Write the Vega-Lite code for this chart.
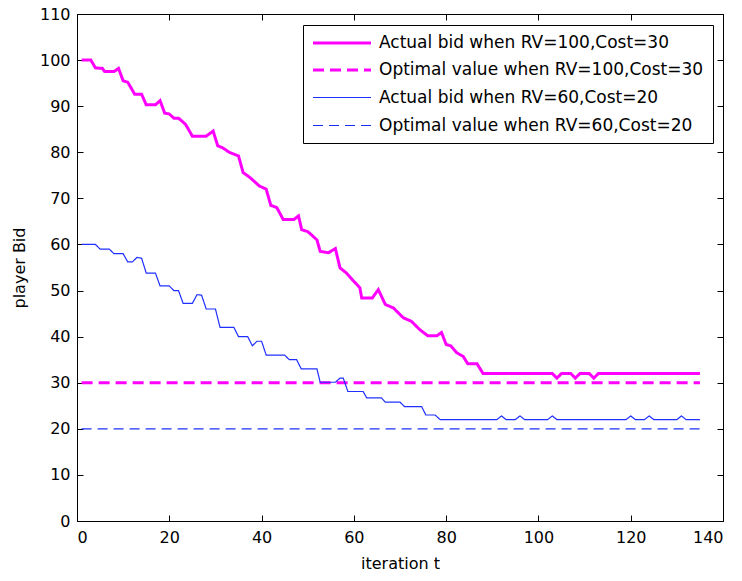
{
  "$schema": "https://vega.github.io/schema/vega-lite/v6.json",
  "width": 646,
  "height": 507,
  "autosize": {"type": "none"},
  "padding": {"left": 77, "top": 14, "right": 19, "bottom": 60},
  "background": "white",
  "config": {
    "font": "DejaVu Sans",
    "view": {"stroke": "black", "strokeWidth": 1},
    "axis": {
      "grid": false,
      "domainColor": "black",
      "tickColor": "black",
      "labelColor": "black",
      "titleColor": "black",
      "labelFont": "DejaVu Sans",
      "titleFont": "DejaVu Sans",
      "labelFontSize": 16,
      "titleFontSize": 16,
      "titleFontWeight": "normal",
      "tickSize": -6,
      "domainWidth": 1,
      "tickWidth": 1
    },
    "legend": {
      "labelFont": "DejaVu Sans",
      "labelFontSize": 17,
      "labelColor": "black"
    }
  },
  "data": {
    "values": [
      {"series": "Actual bid when RV=100,Cost=30", "t": 1, "bid": 100},
      {"series": "Actual bid when RV=100,Cost=30", "t": 3, "bid": 100},
      {"series": "Actual bid when RV=100,Cost=30", "t": 4, "bid": 98.3},
      {"series": "Actual bid when RV=100,Cost=30", "t": 5.5, "bid": 98.2},
      {"series": "Actual bid when RV=100,Cost=30", "t": 6, "bid": 97.5},
      {"series": "Actual bid when RV=100,Cost=30", "t": 8, "bid": 97.5},
      {"series": "Actual bid when RV=100,Cost=30", "t": 9, "bid": 98.2},
      {"series": "Actual bid when RV=100,Cost=30", "t": 10, "bid": 95.5},
      {"series": "Actual bid when RV=100,Cost=30", "t": 11, "bid": 95.2},
      {"series": "Actual bid when RV=100,Cost=30", "t": 12.5, "bid": 92.6},
      {"series": "Actual bid when RV=100,Cost=30", "t": 14, "bid": 92.6},
      {"series": "Actual bid when RV=100,Cost=30", "t": 15, "bid": 90.3},
      {"series": "Actual bid when RV=100,Cost=30", "t": 17, "bid": 90.3},
      {"series": "Actual bid when RV=100,Cost=30", "t": 18, "bid": 91.2},
      {"series": "Actual bid when RV=100,Cost=30", "t": 19, "bid": 88.5},
      {"series": "Actual bid when RV=100,Cost=30", "t": 20, "bid": 88.3},
      {"series": "Actual bid when RV=100,Cost=30", "t": 21, "bid": 87.4},
      {"series": "Actual bid when RV=100,Cost=30", "t": 22, "bid": 87.4},
      {"series": "Actual bid when RV=100,Cost=30", "t": 23.5, "bid": 86.1},
      {"series": "Actual bid when RV=100,Cost=30", "t": 25, "bid": 83.5},
      {"series": "Actual bid when RV=100,Cost=30", "t": 28, "bid": 83.5},
      {"series": "Actual bid when RV=100,Cost=30", "t": 29.5, "bid": 84.6},
      {"series": "Actual bid when RV=100,Cost=30", "t": 30.5, "bid": 81.4},
      {"series": "Actual bid when RV=100,Cost=30", "t": 31.5, "bid": 81},
      {"series": "Actual bid when RV=100,Cost=30", "t": 33, "bid": 80},
      {"series": "Actual bid when RV=100,Cost=30", "t": 35, "bid": 79.2},
      {"series": "Actual bid when RV=100,Cost=30", "t": 36, "bid": 75.6},
      {"series": "Actual bid when RV=100,Cost=30", "t": 37.5, "bid": 74.5},
      {"series": "Actual bid when RV=100,Cost=30", "t": 39.5, "bid": 72.7},
      {"series": "Actual bid when RV=100,Cost=30", "t": 41, "bid": 72},
      {"series": "Actual bid when RV=100,Cost=30", "t": 42, "bid": 68.5},
      {"series": "Actual bid when RV=100,Cost=30", "t": 43.3, "bid": 68},
      {"series": "Actual bid when RV=100,Cost=30", "t": 44.7, "bid": 65.4},
      {"series": "Actual bid when RV=100,Cost=30", "t": 47, "bid": 65.4},
      {"series": "Actual bid when RV=100,Cost=30", "t": 48, "bid": 66.2},
      {"series": "Actual bid when RV=100,Cost=30", "t": 48.7, "bid": 63.2},
      {"series": "Actual bid when RV=100,Cost=30", "t": 50, "bid": 62.8},
      {"series": "Actual bid when RV=100,Cost=30", "t": 52, "bid": 61},
      {"series": "Actual bid when RV=100,Cost=30", "t": 52.7, "bid": 58.5},
      {"series": "Actual bid when RV=100,Cost=30", "t": 54.5, "bid": 58.2},
      {"series": "Actual bid when RV=100,Cost=30", "t": 56, "bid": 59.1},
      {"series": "Actual bid when RV=100,Cost=30", "t": 57, "bid": 54.9},
      {"series": "Actual bid when RV=100,Cost=30", "t": 58.4, "bid": 53.8},
      {"series": "Actual bid when RV=100,Cost=30", "t": 60, "bid": 52},
      {"series": "Actual bid when RV=100,Cost=30", "t": 61.3, "bid": 50.6},
      {"series": "Actual bid when RV=100,Cost=30", "t": 61.7, "bid": 48.4},
      {"series": "Actual bid when RV=100,Cost=30", "t": 64, "bid": 48.4},
      {"series": "Actual bid when RV=100,Cost=30", "t": 65.3, "bid": 50.2},
      {"series": "Actual bid when RV=100,Cost=30", "t": 66.8, "bid": 47},
      {"series": "Actual bid when RV=100,Cost=30", "t": 68.6, "bid": 46.2},
      {"series": "Actual bid when RV=100,Cost=30", "t": 70.7, "bid": 44.1},
      {"series": "Actual bid when RV=100,Cost=30", "t": 72.5, "bid": 43.3},
      {"series": "Actual bid when RV=100,Cost=30", "t": 74.3, "bid": 41.5},
      {"series": "Actual bid when RV=100,Cost=30", "t": 76, "bid": 40.2},
      {"series": "Actual bid when RV=100,Cost=30", "t": 78, "bid": 40.2},
      {"series": "Actual bid when RV=100,Cost=30", "t": 79, "bid": 40.9},
      {"series": "Actual bid when RV=100,Cost=30", "t": 80, "bid": 38.3},
      {"series": "Actual bid when RV=100,Cost=30", "t": 81, "bid": 38},
      {"series": "Actual bid when RV=100,Cost=30", "t": 82.3, "bid": 36.5},
      {"series": "Actual bid when RV=100,Cost=30", "t": 83.7, "bid": 35.7},
      {"series": "Actual bid when RV=100,Cost=30", "t": 84.7, "bid": 34.1},
      {"series": "Actual bid when RV=100,Cost=30", "t": 86.7, "bid": 34.1},
      {"series": "Actual bid when RV=100,Cost=30", "t": 88, "bid": 32},
      {"series": "Actual bid when RV=100,Cost=30", "t": 103, "bid": 32},
      {"series": "Actual bid when RV=100,Cost=30", "t": 104, "bid": 31},
      {"series": "Actual bid when RV=100,Cost=30", "t": 105, "bid": 32},
      {"series": "Actual bid when RV=100,Cost=30", "t": 107, "bid": 32},
      {"series": "Actual bid when RV=100,Cost=30", "t": 108, "bid": 31},
      {"series": "Actual bid when RV=100,Cost=30", "t": 109, "bid": 32},
      {"series": "Actual bid when RV=100,Cost=30", "t": 111, "bid": 32},
      {"series": "Actual bid when RV=100,Cost=30", "t": 112, "bid": 31},
      {"series": "Actual bid when RV=100,Cost=30", "t": 113, "bid": 32},
      {"series": "Actual bid when RV=100,Cost=30", "t": 135, "bid": 32},
      {"series": "Optimal value when RV=100,Cost=30", "t": 1, "bid": 30},
      {"series": "Optimal value when RV=100,Cost=30", "t": 135, "bid": 30},
      {"series": "Actual bid when RV=60,Cost=20", "t": 1, "bid": 60},
      {"series": "Actual bid when RV=60,Cost=20", "t": 4, "bid": 60},
      {"series": "Actual bid when RV=60,Cost=20", "t": 5, "bid": 59},
      {"series": "Actual bid when RV=60,Cost=20", "t": 7, "bid": 59},
      {"series": "Actual bid when RV=60,Cost=20", "t": 8, "bid": 58},
      {"series": "Actual bid when RV=60,Cost=20", "t": 10, "bid": 58},
      {"series": "Actual bid when RV=60,Cost=20", "t": 11, "bid": 56.2},
      {"series": "Actual bid when RV=60,Cost=20", "t": 12, "bid": 56.2},
      {"series": "Actual bid when RV=60,Cost=20", "t": 13, "bid": 57.2},
      {"series": "Actual bid when RV=60,Cost=20", "t": 14, "bid": 57},
      {"series": "Actual bid when RV=60,Cost=20", "t": 15, "bid": 53.8},
      {"series": "Actual bid when RV=60,Cost=20", "t": 17, "bid": 53.8},
      {"series": "Actual bid when RV=60,Cost=20", "t": 18, "bid": 51},
      {"series": "Actual bid when RV=60,Cost=20", "t": 20, "bid": 51},
      {"series": "Actual bid when RV=60,Cost=20", "t": 21, "bid": 50},
      {"series": "Actual bid when RV=60,Cost=20", "t": 22, "bid": 50},
      {"series": "Actual bid when RV=60,Cost=20", "t": 23, "bid": 47.2},
      {"series": "Actual bid when RV=60,Cost=20", "t": 25, "bid": 47.2},
      {"series": "Actual bid when RV=60,Cost=20", "t": 26, "bid": 49.1},
      {"series": "Actual bid when RV=60,Cost=20", "t": 27, "bid": 49},
      {"series": "Actual bid when RV=60,Cost=20", "t": 28, "bid": 46},
      {"series": "Actual bid when RV=60,Cost=20", "t": 30, "bid": 46},
      {"series": "Actual bid when RV=60,Cost=20", "t": 31, "bid": 42},
      {"series": "Actual bid when RV=60,Cost=20", "t": 34, "bid": 42},
      {"series": "Actual bid when RV=60,Cost=20", "t": 35, "bid": 40},
      {"series": "Actual bid when RV=60,Cost=20", "t": 37, "bid": 40},
      {"series": "Actual bid when RV=60,Cost=20", "t": 38, "bid": 38},
      {"series": "Actual bid when RV=60,Cost=20", "t": 39, "bid": 39},
      {"series": "Actual bid when RV=60,Cost=20", "t": 40, "bid": 39},
      {"series": "Actual bid when RV=60,Cost=20", "t": 41, "bid": 36},
      {"series": "Actual bid when RV=60,Cost=20", "t": 45, "bid": 36},
      {"series": "Actual bid when RV=60,Cost=20", "t": 46, "bid": 35},
      {"series": "Actual bid when RV=60,Cost=20", "t": 47.6, "bid": 35},
      {"series": "Actual bid when RV=60,Cost=20", "t": 48.6, "bid": 33},
      {"series": "Actual bid when RV=60,Cost=20", "t": 52, "bid": 33},
      {"series": "Actual bid when RV=60,Cost=20", "t": 52.7, "bid": 30.1},
      {"series": "Actual bid when RV=60,Cost=20", "t": 56, "bid": 30.1},
      {"series": "Actual bid when RV=60,Cost=20", "t": 57, "bid": 31},
      {"series": "Actual bid when RV=60,Cost=20", "t": 57.7, "bid": 31},
      {"series": "Actual bid when RV=60,Cost=20", "t": 58.7, "bid": 28.1},
      {"series": "Actual bid when RV=60,Cost=20", "t": 62, "bid": 28.1},
      {"series": "Actual bid when RV=60,Cost=20", "t": 62.8, "bid": 26.7},
      {"series": "Actual bid when RV=60,Cost=20", "t": 66, "bid": 26.7},
      {"series": "Actual bid when RV=60,Cost=20", "t": 66.8, "bid": 25.8},
      {"series": "Actual bid when RV=60,Cost=20", "t": 70, "bid": 25.8},
      {"series": "Actual bid when RV=60,Cost=20", "t": 71, "bid": 24.8},
      {"series": "Actual bid when RV=60,Cost=20", "t": 74.7, "bid": 24.8},
      {"series": "Actual bid when RV=60,Cost=20", "t": 75.6, "bid": 23},
      {"series": "Actual bid when RV=60,Cost=20", "t": 77.6, "bid": 23},
      {"series": "Actual bid when RV=60,Cost=20", "t": 78.7, "bid": 22},
      {"series": "Actual bid when RV=60,Cost=20", "t": 91, "bid": 22},
      {"series": "Actual bid when RV=60,Cost=20", "t": 92, "bid": 22.8},
      {"series": "Actual bid when RV=60,Cost=20", "t": 93, "bid": 22},
      {"series": "Actual bid when RV=60,Cost=20", "t": 95, "bid": 22},
      {"series": "Actual bid when RV=60,Cost=20", "t": 96, "bid": 22.8},
      {"series": "Actual bid when RV=60,Cost=20", "t": 97, "bid": 22},
      {"series": "Actual bid when RV=60,Cost=20", "t": 102, "bid": 22},
      {"series": "Actual bid when RV=60,Cost=20", "t": 103, "bid": 22.8},
      {"series": "Actual bid when RV=60,Cost=20", "t": 104, "bid": 22},
      {"series": "Actual bid when RV=60,Cost=20", "t": 119, "bid": 22},
      {"series": "Actual bid when RV=60,Cost=20", "t": 120, "bid": 22.8},
      {"series": "Actual bid when RV=60,Cost=20", "t": 121, "bid": 22},
      {"series": "Actual bid when RV=60,Cost=20", "t": 123, "bid": 22},
      {"series": "Actual bid when RV=60,Cost=20", "t": 124, "bid": 22.8},
      {"series": "Actual bid when RV=60,Cost=20", "t": 125, "bid": 22},
      {"series": "Actual bid when RV=60,Cost=20", "t": 130, "bid": 22},
      {"series": "Actual bid when RV=60,Cost=20", "t": 131, "bid": 22.8},
      {"series": "Actual bid when RV=60,Cost=20", "t": 132, "bid": 22},
      {"series": "Actual bid when RV=60,Cost=20", "t": 135, "bid": 22},
      {"series": "Optimal value when RV=60,Cost=20", "t": 1, "bid": 20},
      {"series": "Optimal value when RV=60,Cost=20", "t": 135, "bid": 20}
    ]
  },
  "resolve": {"axis": {"x": "independent", "y": "independent"}},
  "layer": [
    {
      "mark": {"type": "line", "strokeCap": "butt", "strokeJoin": "miter"},
      "encoding": {
        "x": {
          "field": "t", "type": "quantitative",
          "scale": {"domain": [0, 140], "nice": false, "zero": false},
          "axis": {"title": "iteration t", "values": [0, 20, 40, 60, 80, 100, 120, 140], "labelPadding": 14, "titlePadding": 10}
        },
        "y": {
          "field": "bid", "type": "quantitative",
          "scale": {"domain": [0, 110], "nice": false},
          "axis": {"title": "player Bid", "values": [0, 10, 20, 30, 40, 50, 60, 70, 80, 90, 100, 110], "labelPadding": 13, "titlePadding": 12}
        },
        "color": {
          "field": "series", "type": "nominal",
          "scale": {
            "domain": ["Actual bid when RV=100,Cost=30", "Optimal value when RV=100,Cost=30", "Actual bid when RV=60,Cost=20", "Optimal value when RV=60,Cost=20"],
            "range": ["#ff00ff", "#ff00ff", "#1f2fff", "#1f2fff"]
          },
          "legend": {
            "title": null,
            "orient": "none",
            "legendX": 226,
            "legendY": 11,
            "symbolType": "M-4,0L4,0",
            "symbolSize": 210,
            "symbolOffset": 21,
            "labelOffset": 28,
            "padding": 9,
            "rowPadding": 10,
            "fillColor": "white",
            "strokeColor": "black",
            "cornerRadius": 0,
            "labelLimit": 400
          }
        },
        "strokeDash": {
          "field": "series", "type": "nominal",
          "scale": {
            "domain": ["Actual bid when RV=100,Cost=30", "Optimal value when RV=100,Cost=30", "Actual bid when RV=60,Cost=20", "Optimal value when RV=60,Cost=20"],
            "range": [[1, 0], [11, 6], [1, 0], [10, 6]]
          },
          "legend": null
        },
        "strokeWidth": {
          "field": "series", "type": "nominal",
          "scale": {
            "type": "ordinal",
            "domain": ["Actual bid when RV=100,Cost=30", "Optimal value when RV=100,Cost=30", "Actual bid when RV=60,Cost=20", "Optimal value when RV=60,Cost=20"],
            "range": [3, 3, 1.2, 1.2]
          },
          "legend": null
        }
      }
    },
    {
      "mark": {"type": "point", "opacity": 0},
      "encoding": {
        "x": {"field": "t", "type": "quantitative", "axis": {"orient": "top", "labels": false, "title": null, "values": [0, 20, 40, 60, 80, 100, 120, 140]}},
        "y": {"field": "bid", "type": "quantitative", "axis": {"orient": "right", "labels": false, "title": null, "values": [0, 10, 20, 30, 40, 50, 60, 70, 80, 90, 100, 110]}}
      }
    }
  ]
}
